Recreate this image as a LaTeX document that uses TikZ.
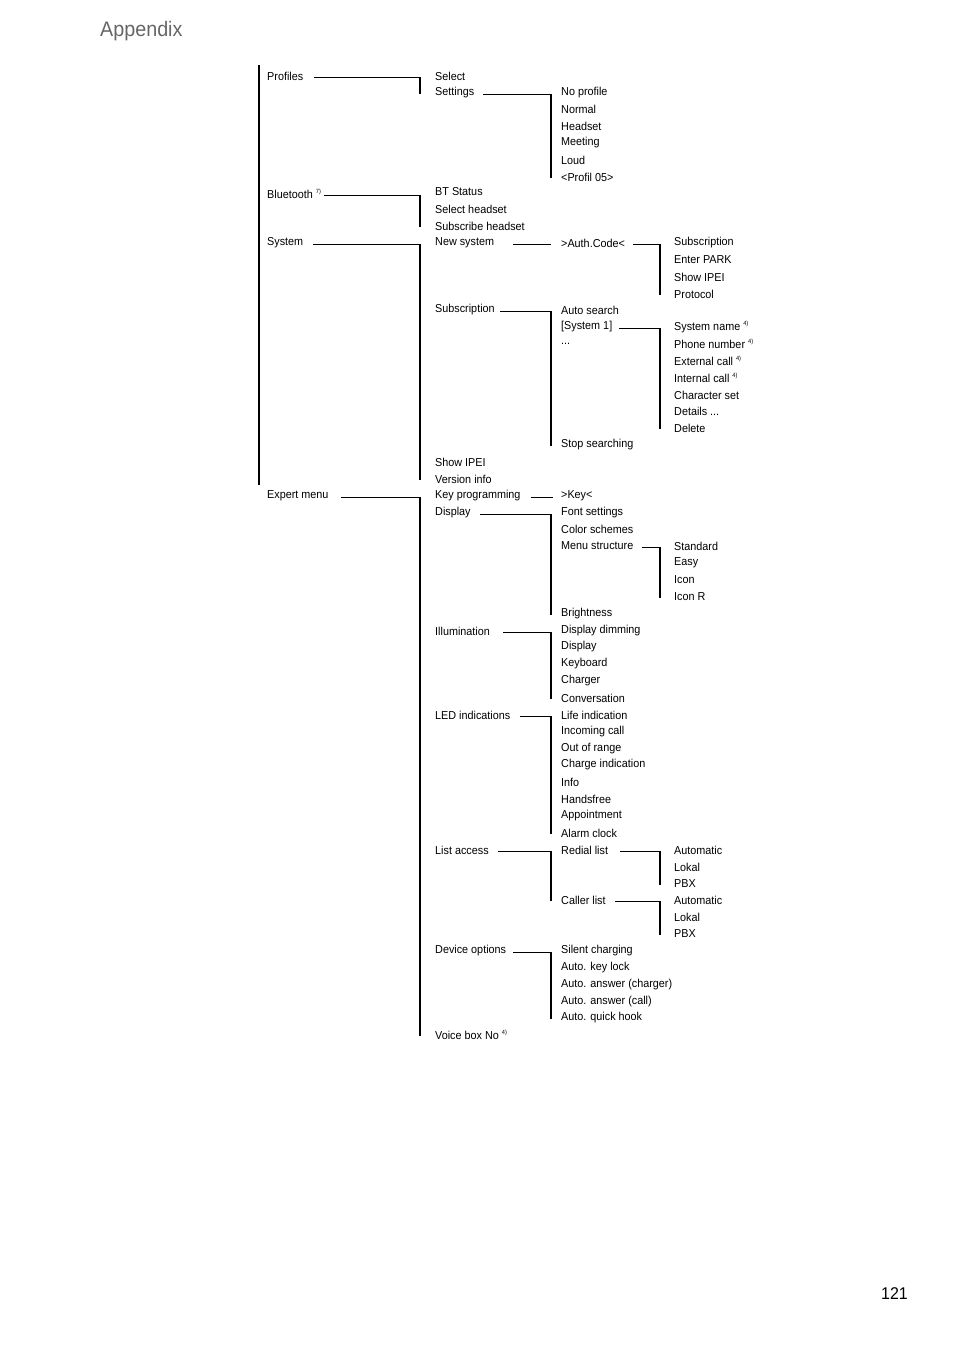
\documentclass[tikz,border=0pt]{standalone}
\usepackage{fontspec}
\setmainfont[FakeStretch=0.94]{Liberation Sans}
\begin{document}
\begin{tikzpicture}[x=1pt,y=-1pt,
  t/.style={anchor=west,inner sep=0pt,font=\fontsize{11.5}{13}\selectfont},
  ln/.style={line width=1.1pt}]
\useasboundingbox (0,0) rectangle (954,1354);
\node[anchor=west,inner sep=0pt,text=black!60,font=\fontsize{21}{24}\selectfont] (title) at (100,31) {Appendix};
\node[anchor=east,inner sep=0pt,font=\fontsize{17}{20}\selectfont] (pg) at (908,1294) {121};
\newcommand\itm[4]{\node[t] (#1) at (#2,#3) {#4};}
% column 1
\itm{a1}{267}{76}{Profiles}
\itm{a2}{267}{194}{Bluetooth \textsuperscript{\fontsize{6}{6}\selectfont 7)}}
\itm{a3}{267}{243}{System}
\itm{a4}{267}{496}{Expert menu}
% column 2
\itm{b1}{435}{76}{Select}
\itm{b2}{435}{93}{Settings}
\itm{b3}{435}{192}{BT Status}
\itm{b4}{435}{209}{Select headset}
\itm{b5}{435}{226}{Subscribe headset}
\itm{b6}{435}{243}{New system}
\itm{b7}{435}{310}{Subscription}
\itm{b8}{435}{462}{Show IPEI}
\itm{b9}{435}{479}{Version info}
\itm{b10}{435}{496}{Key programming}
\itm{b11}{435}{513}{Display}
\itm{b12}{435}{631}{Illumination}
\itm{b13}{435}{715}{LED indications}
\itm{b14}{435}{850}{List access}
\itm{b15}{435}{951}{Device options}
\itm{b16}{435}{1035}{Voice box No \textsuperscript{\fontsize{6}{6}\selectfont 4)}}
% column 3
\itm{c1}{561}{93}{No profile}
\itm{c2}{561}{109}{Normal}
\itm{c3}{561}{126}{Headset}
\itm{c4}{561}{143}{Meeting}
\itm{c5}{561}{160}{Loud}
\itm{c6}{561}{177}{<Profil 05>}
\itm{c7}{561}{243}{>Auth.Code<}
\itm{c8}{561}{310}{Auto search}
\itm{c9}{561}{327}{[System 1]}
\itm{c10}{561}{344}{...}
\itm{c11}{561}{445}{Stop searching}
\itm{c12}{561}{496}{>Key<}
\itm{c13}{561}{513}{Font settings}
\itm{c14}{561}{529}{Color schemes}
\itm{c15}{561}{546}{Menu structure}
\itm{c16}{561}{614}{Brightness}
\itm{c17}{561}{631}{Display dimming}
\itm{c18}{561}{647}{Display}
\itm{c19}{561}{664}{Keyboard}
\itm{c20}{561}{681}{Charger}
\itm{c21}{561}{698}{Conversation}
\itm{c22}{561}{715}{Life indication}
\itm{c23}{561}{732}{Incoming call}
\itm{c24}{561}{749}{Out of range}
\itm{c25}{561}{765}{Charge indication}
\itm{c26}{561}{782}{Info}
\itm{c27}{561}{799}{Handsfree}
\itm{c28}{561}{816}{Appointment}
\itm{c29}{561}{833}{Alarm clock}
\itm{c30}{561}{850}{Redial list}
\itm{c31}{561}{900}{Caller list}
\itm{c32}{561}{951}{Silent charging}
\itm{c33}{561}{968}{Auto. key lock}
\itm{c34}{561}{985}{Auto. answer (charger)}
\itm{c35}{561}{1002}{Auto. answer (call)}
\itm{c36}{561}{1018}{Auto. quick hook}
% column 4
\itm{d1}{674}{243}{Subscription}
\itm{d2}{674}{260}{Enter PARK}
\itm{d3}{674}{277}{Show IPEI}
\itm{d4}{674}{294}{Protocol}
\itm{d5}{674}{327}{System name \textsuperscript{\fontsize{6}{6}\selectfont 4)}}
\itm{d6}{674}{344}{Phone number \textsuperscript{\fontsize{6}{6}\selectfont 4)}}
\itm{d7}{674}{361}{External call \textsuperscript{\fontsize{6}{6}\selectfont 4)}}
\itm{d8}{674}{378}{Internal call \textsuperscript{\fontsize{6}{6}\selectfont 4)}}
\itm{d9}{674}{395}{Character set}
\itm{d10}{674}{411}{Details ...}
\itm{d11}{674}{428}{Delete}
\itm{d12}{674}{546}{Standard}
\itm{d13}{674}{563}{Easy}
\itm{d14}{674}{580}{Icon}
\itm{d15}{674}{597}{Icon R}
\itm{d16}{674}{850}{Automatic}
\itm{d17}{674}{867}{Lokal}
\itm{d18}{674}{884}{PBX}
\itm{d19}{674}{900}{Automatic}
\itm{d20}{674}{917}{Lokal}
\itm{d21}{674}{934}{PBX}
% vertical positions
\coordinate (v2) at (420,0);
\coordinate (v3) at (551,0);
\coordinate (v4) at (660,0);
\draw[ln] (259,65) coordinate (l1) -- (259,485) coordinate (l2);
\newcommand\cn[4]{\draw[ln] ([xshift=#2pt,yshift=-1.5pt]#1.east) -- ([yshift=-1.5pt]#1.east -| #3) -- ([yshift=-1pt]#4.west -| #3);}
\cn{a1}{11}{v2}{b2}
\cn{a2}{2}{v2}{b5}
\cn{a3}{10}{v2}{b9}
\cn{a4}{12}{v2}{b16}
\cn{b2}{9}{v3}{c6}
\cn{b7}{5}{v3}{c11}
\cn{b11}{9}{v3}{c16}
\cn{b12}{13}{v3}{c21}
\cn{b13}{9}{v3}{c29}
\cn{b14}{9}{v3}{c31}
\cn{b15}{7}{v3}{c36}
\cn{c7}{8}{v4}{d4}
\cn{c9}{7}{v4}{d11}
\cn{c15}{8}{v4}{d15}
\cn{c30}{12}{v4}{d18}
\cn{c31}{9}{v4}{d21}
\draw[ln] ([xshift=19pt,yshift=-1.5pt]b6.east) -- ([xshift=-10pt,yshift=-1.5pt]c7.west);
\draw[ln] ([xshift=10pt,yshift=-1.5pt]b10.east) -- ([xshift=-8pt,yshift=-1.5pt]c12.west);
\end{tikzpicture}
\end{document}
